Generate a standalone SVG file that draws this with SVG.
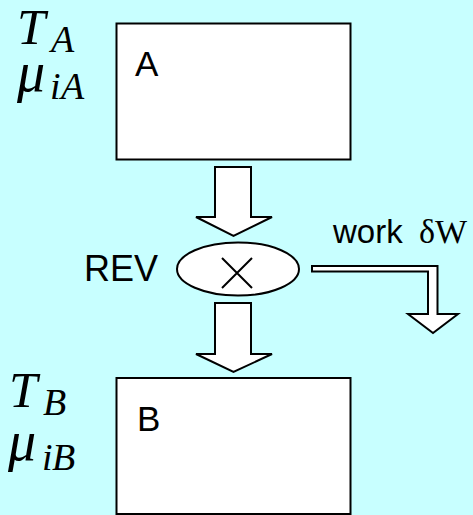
<svg xmlns="http://www.w3.org/2000/svg" width="473" height="515" viewBox="0 0 473 515">
  <style>
    .box { fill: #ffffff; stroke: #000000; stroke-width: 2; }
    .blk { fill: #ffffff; stroke: #000000; stroke-width: 2; stroke-linejoin: miter; }
    .sans { font-family: "Liberation Sans", Arial, sans-serif; fill: #000000; }
    .math { font-family: "Liberation Serif", "Times New Roman", serif; font-style: italic; fill: #000000; }
    .serif { font-family: "Liberation Serif", "Times New Roman", serif; fill: #000000; }
  </style>
  <rect x="0" y="0" width="473" height="515" fill="#c8ffff"/>

  <!-- reservoir A -->
  <g id="nodeA">
    <rect class="box" x="116.5" y="23.5" width="234" height="136"/>
    <text class="sans" x="135" y="76" font-size="35">A</text>
    <text class="math" x="17" y="44" font-size="51">T</text>
    <text class="math" x="51" y="52" font-size="38">A</text>
    <text class="math" x="17" y="91" font-size="56">μ</text>
    <text class="math" x="50" y="99" font-size="38">i</text>
    <text class="math" x="61" y="99" font-size="38">A</text>
  </g>

  <!-- reversible engine -->
  <g id="rev">
    <ellipse cx="238" cy="269" rx="61" ry="26.5" fill="#ffffff" stroke="#000000" stroke-width="2"/>
    <path d="M222 258 L252 288 M252 258 L222 288" stroke="#000000" stroke-width="2" fill="none"/>
    <text class="sans" x="84" y="281" font-size="36">REV</text>
  </g>

  <!-- reservoir B -->
  <g id="nodeB">
    <rect class="box" x="116.5" y="378" width="234" height="136"/>
    <text class="sans" x="137" y="431" font-size="35">B</text>
    <text class="math" x="9" y="407" font-size="51">T</text>
    <text class="math" x="43" y="415" font-size="38">B</text>
    <text class="math" x="8" y="460" font-size="56">μ</text>
    <text class="math" x="42" y="470" font-size="38">i</text>
    <text class="math" x="52" y="470" font-size="38">B</text>
  </g>

  <!-- block arrows: heat flow and work output -->
  <g id="connectors">
    <polygon class="blk" points="215,167 251,167 251,217 272,217 233.5,236 196,217 215,217"/>
    <polygon class="blk" points="215,303 251,303 251,354 272,354 233.5,372 196,354 215,354"/>
    <polygon class="blk" stroke-width="1.6" points="312,266 437.5,266 437.5,314 458,314 433,333 408,314 428,314 428,271.5 312,271.5"/>
    <text class="sans" x="333" y="243" font-size="33">work</text>
    <text class="serif" x="419" y="243" font-size="34">δW</text>
  </g>
</svg>
